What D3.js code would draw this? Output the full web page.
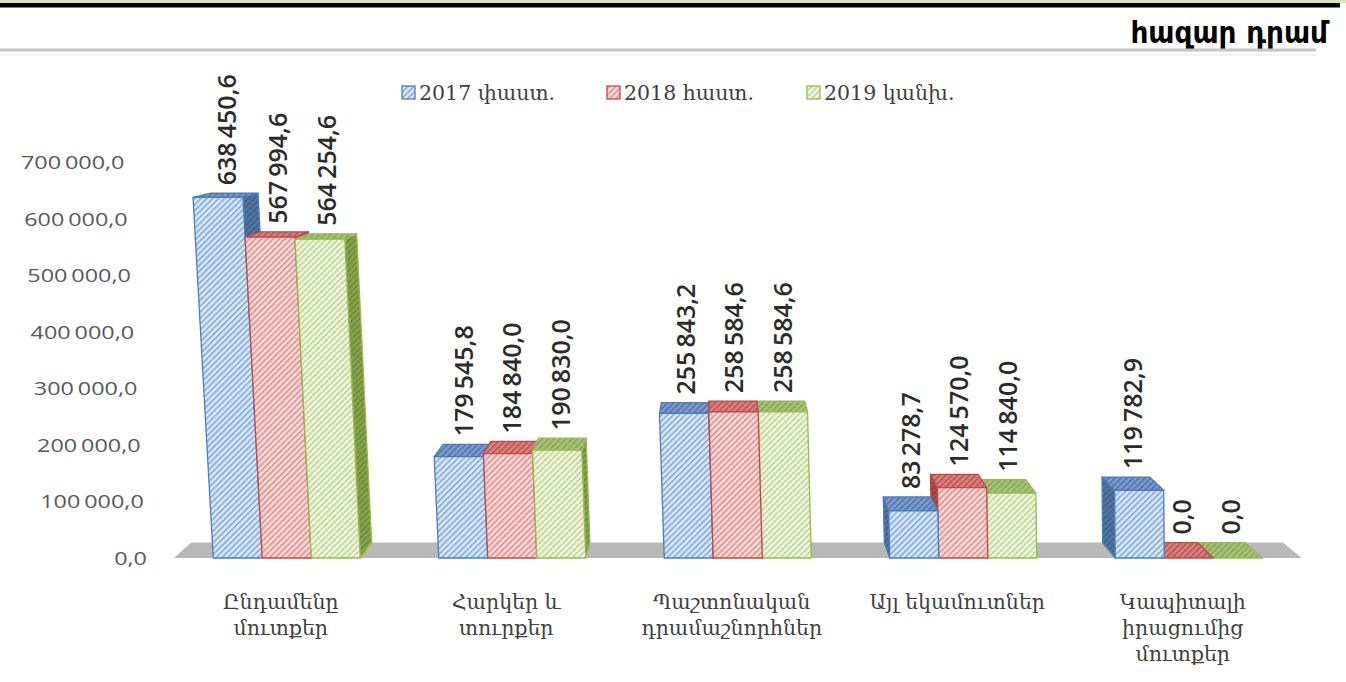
<!DOCTYPE html>
<html>
<head>
<meta charset="utf-8">
<script src="https://cdn.jsdelivr.net/npm/d3@7"></script>
<style>
  body { margin: 0; background: #fff; }
  svg { display: block; }
</style>
</head>
<body>
<svg width="1346" height="682"></svg>
<script>
// Data
const categoryLines = [
    ["Ընդամենը", "մուտքեր"],
    ["Հարկեր և", "տուրքեր"],
    ["Պաշտոնական", "դրամաշնորհներ"],
    ["Այլ եկամուտներ"],
    ["Կապիտալի", "իրացումից", "մուտքեր"]
];
const seriesNames = ["2017 փաստ.", "2018 հաստ.", "2019 կանխ."];
const values2017 = [638450.6, 179545.8, 255843.2, 83278.7, 119782.9];
const values2018 = [567994.6, 184840.0, 258584.6, 124570.0, 0.0];
const values2019 = [564254.6, 190830.0, 258584.6, 114840.0, 0.0];
const yTicks = [0, 100000, 200000, 300000, 400000, 500000, 600000, 700000];
const unitLabel = "հազար դրամ";

const seriesValues = [values2017, values2018, values2019];
const categories = categoryLines.map(d => d.join(" "));

const svg = d3.select("svg");

const fmt = d3.formatLocale({
    decimal: ",", thousands: "\u2009", grouping: [3], currency: ["", ""]
}).format(",.1f");

// page header
svg.append("rect").attr("x", 0).attr("y", 0).attr("width", 1346).attr("height", 3).attr("fill", "#d8e4bc");
svg.append("rect").attr("x", 0).attr("y", 3).attr("width", 1340).attr("height", 4.5).attr("fill", "#000");
svg.append("text")
    .attr("x", 1328).attr("y", 43)
    .attr("text-anchor", "end")
    .attr("font-family", "DejaVu Sans Condensed, DejaVu Sans")
    .attr("font-stretch", "condensed")
    .attr("font-weight", "bold")
    .attr("font-size", 31)
    .attr("fill", "#000")
    .text(unitLabel);
svg.append("rect").attr("x", 0).attr("y", 48.5).attr("width", 1316).attr("height", 3).attr("fill", "#c4c4c4");
svg.append("rect").attr("x", 0).attr("y", 54).attr("width", 1316).attr("height", 2).attr("fill", "#f2f2f2");

// scales
const baseY = 558;
const y = d3.scaleLinear().domain([0, 700000]).range([baseY, 162.5]);
const x = d3.scaleBand().domain(categories).range([174, 1301.5])
    .paddingInner(0.348).paddingOuter(0.174);
const xs = d3.scaleBand().domain(seriesNames).range([0, x.bandwidth()]);

// rough perspective of the 3D view
const depthVP = { x: 718, y: 71, k: 0.0317 };
const vertVP = { x: 1311, d: 19600 };
function proj(px, py, z) {
    const h = baseY - py;
    let sx = px - (vertVP.x - px) * h / vertVP.d;
    const k = depthVP.k * z;
    return [sx + k * (depthVP.x - sx), py + k * (depthVP.y - py)];
}
const poly = pts => "M" + pts.map(p => p.join(",")).join("L") + "Z";

// hatch patterns
const palette = [
    { front: ["#dfeaf8", "#8db2e2"], top: ["#7f9ccc", "#5579b2"], side: ["#54779f", "#3f6290"], stroke: "#4a7ebb" },
    { front: ["#fbdfde", "#e39996"], top: ["#d98583", "#c05a57"], side: ["#b24a47", "#983c39"], stroke: "#be4b48" },
    { front: ["#f1f7e3", "#c5d99e"], top: ["#a9c57a", "#8cab59"], side: ["#87a64c", "#708d3c"], stroke: "#98b954" }
];
const defs = svg.append("defs");
palette.forEach((p, i) => {
    ["front", "top", "side"].forEach(f => {
        const pat = defs.append("pattern")
            .attr("id", `hatch-${i}-${f}`)
            .attr("patternUnits", "userSpaceOnUse")
            .attr("width", 4.2).attr("height", 4.2)
            .attr("patternTransform", "rotate(45)");
        pat.append("rect").attr("width", 4.2).attr("height", 4.2).attr("fill", p[f][0]);
        pat.append("rect").attr("width", 2).attr("height", 4.2).attr("fill", p[f][1]);
    });
});

// y axis labels (follow the slant of the wall)
const yAxis = svg.append("g");
yTicks.forEach(t => {
    const ty = y(t);
    const tx = 147 - 0.057 * (baseY - ty);
    yAxis.append("text")
        .attr("transform", `translate(${tx},${ty}) scale(1.3,1)`)
        .attr("text-anchor", "end")
        .attr("dominant-baseline", "central")
        .attr("font-family", "Open Sans")
        .attr("font-size", 18)
        .attr("fill", "#595959")
        .text(fmt(t));
});

// floor
const [fx0, fx1] = x.range();
svg.append("path")
    .attr("d", poly([proj(fx0, baseY, 0), proj(fx1, baseY, 0), proj(fx1, baseY, 1), proj(fx0, baseY, 1)]))
    .attr("fill", "#b8b8b8");

// bars
const bars = [];
categories.forEach((c, ci) => {
    seriesNames.forEach((s, si) => {
        const x0 = x(c) + xs(s), x1 = x0 + xs.bandwidth();
        bars.push({ ci, si, x0, x1, v: seriesValues[si][ci] });
    });
});
bars.sort((a, b) => Math.abs((b.x0 + b.x1) / 2 - depthVP.x) - Math.abs((a.x0 + a.x1) / 2 - depthVP.x));

const barG = svg.append("g");
bars.forEach(b => {
    const yt = y(b.v);
    const p = palette[b.si];
    const g = barG.append("g")
        .attr("stroke", p.stroke).attr("stroke-width", 1.3).attr("stroke-linejoin", "round");
    const sideX = (b.x0 + b.x1) / 2 < depthVP.x ? b.x1 : b.x0;
    g.append("path")
        .attr("d", poly([proj(sideX, yt, 0), proj(sideX, yt, 1), proj(sideX, baseY, 1), proj(sideX, baseY, 0)]))
        .attr("fill", `url(#hatch-${b.si}-side)`);
    g.append("path")
        .attr("d", poly([proj(b.x0, yt, 0), proj(b.x1, yt, 0), proj(b.x1, yt, 1), proj(b.x0, yt, 1)]))
        .attr("fill", `url(#hatch-${b.si}-top)`);
    if (b.v > 0) {
        g.append("path")
            .attr("d", poly([proj(b.x0, yt, 0), proj(b.x1, yt, 0), proj(b.x1, baseY, 0), proj(b.x0, baseY, 0)]))
            .attr("fill", `url(#hatch-${b.si}-front)`);
    }
});

// value labels
const labelG = svg.append("g");
bars.forEach(b => {
    const yt = y(b.v);
    const f = proj((b.x0 + b.x1) / 2, yt, 0), bk = proj((b.x0 + b.x1) / 2, yt, 1);
    const lx = (f[0] + bk[0]) / 2, ly = bk[1] - 8;
    labelG.append("text")
        .attr("transform", `translate(${lx},${ly}) rotate(-90)`)
        .attr("dominant-baseline", "central")
        .attr("font-family", "Open Sans")
        .attr("font-weight", 600)
        .attr("font-size", 25)
        .attr("fill", "#2b2b2b")
        .text(fmt(b.v));
});

// category labels
categoryLines.forEach((lines, ci) => {
    const cx = x(categories[ci]) + x.bandwidth() / 2 - 6;
    const t = svg.append("text")
        .attr("text-anchor", "middle")
        .attr("font-family", "DejaVu Serif")
        .attr("font-size", 20.5)
        .attr("fill", "#404040");
    lines.forEach((l, li) => {
        t.append("tspan").attr("x", cx).attr("y", 609 + li * 26).text(l);
    });
});

// legend
const legendX = [402, 607, 807];
const legend = svg.append("g");
seriesNames.forEach((s, i) => {
    legend.append("rect")
        .attr("x", legendX[i]).attr("y", 86).attr("width", 13).attr("height", 13)
        .attr("fill", `url(#hatch-${i}-front)`)
        .attr("stroke", palette[i].stroke).attr("stroke-width", 1.3);
    legend.append("text")
        .attr("x", legendX[i] + 17).attr("y", 93)
        .attr("dominant-baseline", "central")
        .attr("font-family", "DejaVu Serif")
        .attr("font-size", 20.5)
        .attr("fill", "#404040")
        .text(s);
});
</script>
</body>
</html>
